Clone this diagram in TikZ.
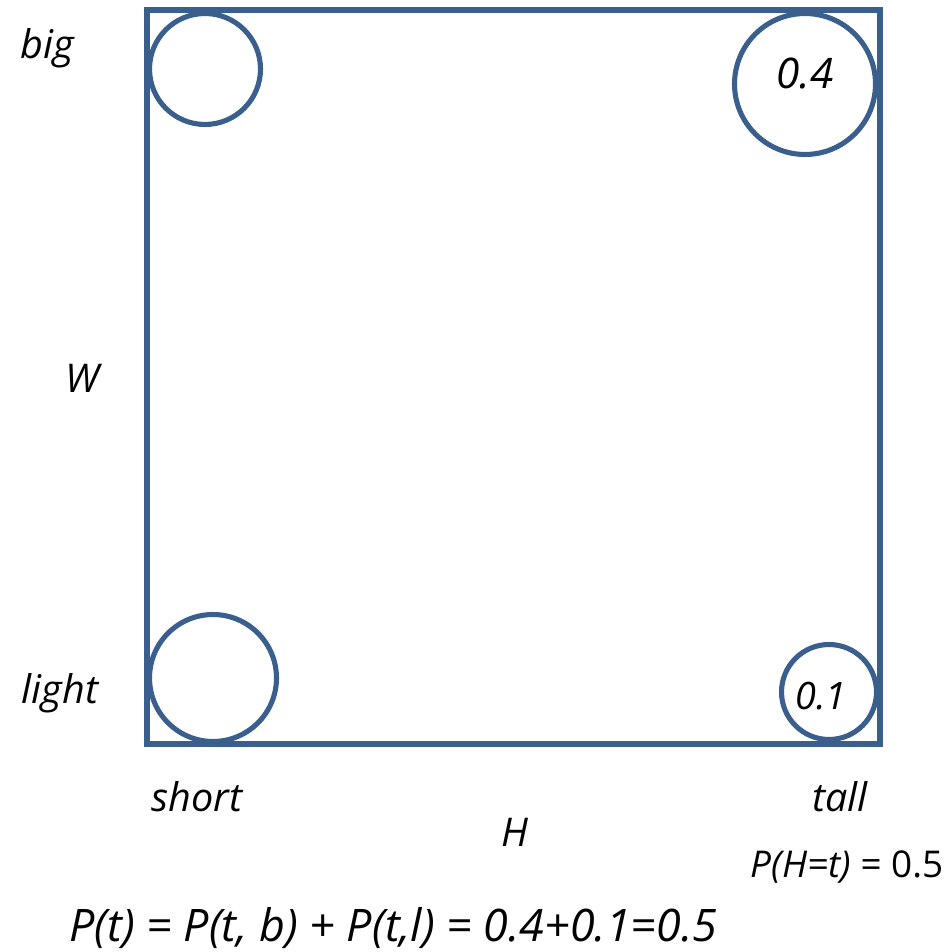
\documentclass[tikz,border=0pt]{standalone}
\usepackage{fontspec}
\setmainfont{Open Sans}
\usetikzlibrary{positioning}
\definecolor{boxblue}{RGB}{58,95,140}
\begin{document}
\begin{tikzpicture}[
    x=0.02cm,y=-0.02cm,
    frame/.style={draw=boxblue,line width=2.9pt},
    ring/.style={circle,draw=boxblue,line width=2.9pt,inner sep=0pt},
    lbl/.style={inner sep=0pt,font=\itshape\fontsize{22.5}{27}\selectfont},
    eqn/.style={inner sep=0pt,font=\itshape\fontsize{25.5}{30}\selectfont}
]
\useasboundingbox (0,0) rectangle (949,952);
\draw[frame] (147,10) rectangle (880,744);
% corner circles
\node[ring,minimum size=2.22cm] (bigshort) at (205,69) {};
\node[ring,minimum size=2.82cm,
  label={[inner sep=0pt,yshift=0.2cm,font=\itshape\fontsize{24}{28}\selectfont]center:0.4}] (bigtall) at (805,84) {};
\node[ring,minimum size=2.54cm] (lightshort) at (213,678) {};
\node[ring,minimum size=1.9cm,
  label={[inner sep=0pt,xshift=-0.16cm,yshift=-0.08cm,font=\itshape\fontsize{21.5}{25}\selectfont]center:0.1}] (lighttall) at (829,692) {};
% axis labels
\node[lbl] (big) at (47,48) {big};
\node[lbl] (W) at (82,378) {W};
\node[lbl] (light) at (60,693) {light};
\node[lbl] (short) at (197,797) {short};
\node[lbl] (tall) at (840,797) {tall};
\node[lbl] (H) at (515,832) {H};
% probabilities
\node[inner sep=0pt,font=\fontsize{21}{25}\selectfont] (marg) at (847,867) {\textit{P(H=t)} = 0.5};
\node[eqn] (sum) at (393,928) {P(t) = P(t, b) + P(t,l) = 0.4+0.1=0.5};
\end{tikzpicture}
\end{document}
